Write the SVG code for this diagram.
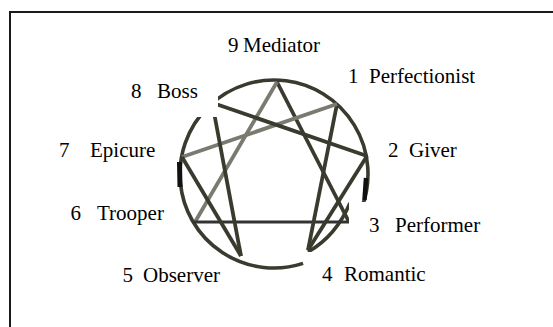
<svg xmlns="http://www.w3.org/2000/svg" width="553" height="327" viewBox="0 0 553 327">
  <defs>
    <style>
      .ln { fill: none; stroke: #3a3a2e; stroke-width: 3.8; stroke-linecap: butt; }
      .lt { fill: none; stroke: #7a7a70; stroke-width: 3.8; stroke-linecap: butt; }
      .ring { fill: none; stroke: #3a3a2e; stroke-width: 3.6; }
    </style>
    <clipPath id="cut">
      <path d="M 218 60 L 400 60 L 400 202 L 349 202 L 349 252 L 304 252 L 304 290 L 150 290 L 150 117 L 218 117 Z"/>
    </clipPath>
  </defs>
  <rect id="frame" x="10" y="12" width="600" height="400" fill="#fff" stroke="#1a1a1a" stroke-width="2"/>

  <g id="ring" clip-path="url(#cut)">
    <path class="ring" d="M 303.05 263.4 A 94 94 0 1 1 362.3 206.2"/>
    <path class="ring" d="M 350 203 Q 336 236 308 252"/>
    <path d="M 179.5 162 L 180 187" stroke="#111" stroke-width="5" fill="none"/>
    <path d="M 366 178 L 364.5 200" stroke="#111" stroke-width="4.5" fill="none"/>
  </g>

  <g id="connectors" clip-path="url(#cut)">
    <line class="ln" x1="277" y1="82" x2="349" y2="222"/>
    <line class="lt" x1="277" y1="82" x2="195" y2="222"/>
    <line class="ln" x1="193" y1="222" x2="350" y2="222" style="stroke:#333;stroke-width:3"/>
    <line class="ln" x1="337" y1="104" x2="308" y2="250"/>
    <line class="lt" x1="337" y1="104" x2="182" y2="157"/>
    <line class="ln" x1="210" y1="102" x2="367" y2="156"/>
    <line class="ln" x1="367" y1="156" x2="308" y2="250"/>
    <line class="ln" x1="212" y1="102" x2="241" y2="256"/>
    <line class="ln" x1="182" y1="157" x2="241" y2="256"/>
  </g>

  <g id="node-9"><text font-family="Liberation Serif, serif" font-size="21" y="52"><tspan x="228">9</tspan><tspan x="243">Mediator</tspan></text></g>
  <g id="node-1"><text font-family="Liberation Serif, serif" font-size="21" y="83"><tspan x="348">1</tspan><tspan x="369">Perfectionist</tspan></text></g>
  <g id="node-8"><text font-family="Liberation Serif, serif" font-size="21" y="97.5"><tspan x="131">8</tspan><tspan x="157">Boss</tspan></text></g>
  <g id="node-2"><text font-family="Liberation Serif, serif" font-size="21" y="157"><tspan x="388">2</tspan><tspan x="409">Giver</tspan></text></g>
  <g id="node-7"><text font-family="Liberation Serif, serif" font-size="21" y="157"><tspan x="59">7</tspan><tspan x="90">Epicure</tspan></text></g>
  <g id="node-6"><text font-family="Liberation Serif, serif" font-size="21" y="220"><tspan x="70.5">6</tspan><tspan x="97">Trooper</tspan></text></g>
  <g id="node-3"><text font-family="Liberation Serif, serif" font-size="21" y="231.5"><tspan x="369">3</tspan><tspan x="395">Performer</tspan></text></g>
  <g id="node-4"><text font-family="Liberation Serif, serif" font-size="21" y="281"><tspan x="322">4</tspan><tspan x="344">Romantic</tspan></text></g>
  <g id="node-5"><text font-family="Liberation Serif, serif" font-size="21" y="282"><tspan x="122.5">5</tspan><tspan x="143">Observer</tspan></text></g>
</svg>
